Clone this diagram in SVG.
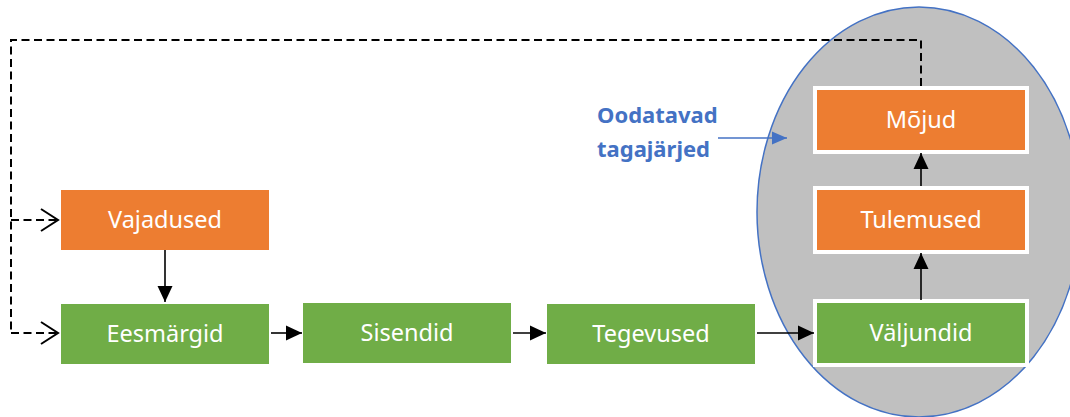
<svg xmlns="http://www.w3.org/2000/svg" width="1070" height="417" viewBox="0 0 1070 417">
  <style>
    .lbl { font-family: "Noto Sans", sans-serif; font-size: 23.5px; font-weight: 400; fill: #ffffff; text-anchor: middle; }
    .orange { fill: #ED7D31; }
    .green { fill: #70AD47; }
    .framed { stroke: #ffffff; stroke-width: 4; }
    .solid { fill: none; stroke: #000000; stroke-width: 1.6; marker-end: url(#arrow); }
    .dash { fill: none; stroke: #000000; stroke-width: 2; stroke-dasharray: 8 4.5; }
    .note { font-family: "Noto Sans", sans-serif; font-size: 22px; font-weight: bold; fill: #4472C4; }
  </style>
  <defs>
    <marker id="arrow" markerUnits="userSpaceOnUse" markerWidth="17" markerHeight="18" viewBox="0 0 17 18" refX="16" refY="9" orient="auto">
      <path d="M0,1.5 L16,9 L0,16.5 Z" fill="#000000"/>
    </marker>
    <marker id="blueArrow" markerUnits="userSpaceOnUse" markerWidth="16" markerHeight="16" viewBox="0 0 16 16" refX="15" refY="8" orient="auto">
      <path d="M0,1.5 L15,8 L0,14.5 Z" fill="#4472C4"/>
    </marker>
    <marker id="openArrow" markerUnits="userSpaceOnUse" markerWidth="20" markerHeight="26" viewBox="0 0 20 26" refX="18" refY="13" orient="auto">
      <path d="M1,2 L18,13 L1,24" fill="none" stroke="#000000" stroke-width="2"/>
    </marker>
  </defs>

  <!-- zone of expected consequences -->
  <ellipse id="zone" cx="919" cy="212" rx="162" ry="205" fill="#C0C0C0" stroke="#4472C4" stroke-width="1.5"/>

  <g id="vajadused">
    <rect class="orange" x="61" y="190" width="208" height="60"/>
    <text class="lbl" x="165" y="228">Vajadused</text>
  </g>
  <g id="eesmargid">
    <rect class="green" x="61" y="304" width="208" height="60"/>
    <text class="lbl" x="165" y="342">Eesmärgid</text>
  </g>
  <g id="sisendid">
    <rect class="green" x="303" y="303" width="208" height="60"/>
    <text class="lbl" x="407" y="341">Sisendid</text>
  </g>
  <g id="tegevused">
    <rect class="green" x="547" y="304" width="208" height="60"/>
    <text class="lbl" x="651" y="342">Tegevused</text>
  </g>
  <g id="valjundid">
    <rect class="green framed" x="815" y="301" width="212" height="64"/>
    <text class="lbl" x="921" y="341">Väljundid</text>
  </g>
  <g id="tulemused">
    <rect class="orange framed" x="815" y="188" width="212" height="64"/>
    <text class="lbl" x="921" y="228">Tulemused</text>
  </g>
  <g id="mojud">
    <rect class="orange framed" x="815" y="88" width="212" height="64"/>
    <text class="lbl" x="921" y="128">Mõjud</text>
  </g>

  <g id="note">
    <text class="note" x="597" y="123">Oodatavad</text>
    <text class="note" x="597" y="157">tagajärjed</text>
  </g>

  <g id="connectors">
    <line class="solid" x1="165" y1="250" x2="165" y2="302"/>
    <line class="solid" x1="271" y1="333" x2="302" y2="333"/>
    <line class="solid" x1="513" y1="333" x2="546" y2="333"/>
    <line class="solid" x1="757" y1="333" x2="814" y2="333"/>
    <line class="solid" x1="921" y1="300" x2="921" y2="253"/>
    <line class="solid" x1="921" y1="186" x2="921" y2="153"/>
    <line x1="718" y1="138" x2="787" y2="138" stroke="#4472C4" stroke-width="1.5" marker-end="url(#blueArrow)"/>
    <!-- feedback loop from impacts back to needs and goals -->
    <path class="dash" d="M921,86 V40 H11 V333"/>
    <path class="dash" d="M11,333 H58" marker-end="url(#openArrow)"/>
    <path class="dash" d="M11,220 H58" marker-end="url(#openArrow)"/>
  </g>
</svg>
